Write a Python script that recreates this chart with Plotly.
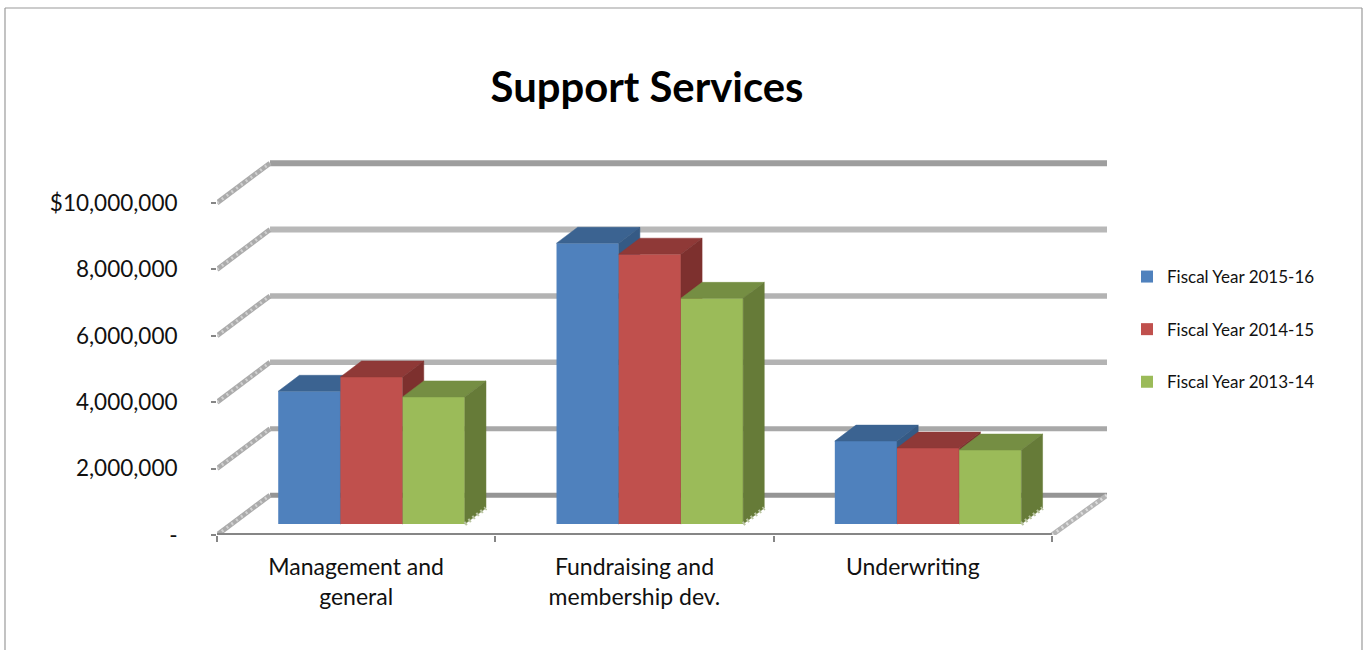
import plotly.graph_objects as go

categories = ["Management and<br>general", "Fundraising and<br>membership dev.", "Underwriting"]
series_names = ["Fiscal Year 2015-16", "Fiscal Year 2014-15", "Fiscal Year 2013-14"]
fy2015_16 = [4000000, 8460000, 2500000]
fy2014_15 = [4430000, 8130000, 2290000]
fy2013_14 = [3830000, 6800000, 2230000]
y_ticks = [0, 2000000, 4000000, 6000000, 8000000, 10000000]
y_tick_labels = ["-", "2,000,000", "4,000,000", "6,000,000", "8,000,000", "$10,000,000"]

W, H = 1367, 650
FONT = "Lato"
FRONT = ["#4F81BD", "#C0504D", "#9BBB59"]
TOP = ["#3B6391", "#8F3937", "#758E43"]
SIDE = ["#355A85", "#7D302E", "#667B38"]

# oblique projection, in axis units
WALL_DX, WALL_DY = 0.1905, 1200000
BAR_DX, BAR_DY = 0.076, 480000
BASE = 330000
BAR_W = 0.2235
X_MAX, Y_MAX = 3.198, 11600000
LEFT, RIGHT, TOP_PX, BOTTOM = 217, 1107, 535 - 33.2 * 11.6, 535

fig = go.Figure()


def line(xs, ys, color, width, dash=None, axis=("x", "y")):
    fig.add_trace(go.Scatter(
        x=xs, y=ys, mode="lines", xaxis=axis[0], yaxis=axis[1], showlegend=False,
        hoverinfo="skip", cliponaxis=False,
        line=dict(color=color, width=width, dash=dash, shape="linear"),
    ))


# back wall grid lines and their diagonal ribbons on the side wall
grid_cols = ["#959595", "#A8A8A8", "#B3B3B3", "#B3B3B3", "#B8B8B8", "#9E9E9E"]
grid_w = [5, 5, 5.5, 5.5, 6, 6]
for v, col, w in zip(y_ticks, grid_cols, grid_w):
    line([WALL_DX, X_MAX], [v + WALL_DY, v + WALL_DY], col, w)
    line([0, WALL_DX], [v, v + WALL_DY], "#ABABAB", 5)
    line([0, WALL_DX], [v, v + WALL_DY], "#D0D0D0", 3, "2px,4px")
# floor diagonal on the right side
line([3, X_MAX], [0, WALL_DY], "#B4B4B4", 5)
line([3, X_MAX], [0, WALL_DY], "#DCDCDC", 3, "2px,4px")
# front edge of the floor
line([0, 3], [0, 0], "#868686", 4)

# bars, one overlaid subplot per series so later series cover earlier ones
all_series = [fy2015_16, fy2014_15, fy2013_14]
for k, (name, vals) in enumerate(zip(series_names, all_series)):
    xa, ya = f"x{k + 2}", f"y{k + 2}"
    lefts = [i + 0.22 + k * BAR_W for i in range(len(vals))]
    fig.add_trace(go.Bar(
        x=[l + BAR_W / 2 for l in lefts], y=vals, base=[BASE] * len(vals), width=BAR_W,
        name=name, legendgroup=name, marker=dict(color=FRONT[k], line=dict(width=0)),
        xaxis=xa, yaxis=ya,
    ))
    for l, v in zip(lefts, vals):
        r = l + BAR_W
        t = BASE + v
        # top face
        fig.add_trace(go.Scatter(
            x=[l, r, r + BAR_DX, l + BAR_DX, l], y=[t, t, t + BAR_DY, t + BAR_DY, t],
            mode="lines", fill="toself", fillcolor=TOP[k], line=dict(color=TOP[k], width=0.5),
            xaxis=xa, yaxis=ya, showlegend=False, hoverinfo="skip",
        ))
        # side face
        fig.add_trace(go.Scatter(
            x=[r, r + BAR_DX, r + BAR_DX, r, r],
            y=[BASE, BASE + BAR_DY, t + BAR_DY, t, BASE],
            mode="lines", fill="toself", fillcolor=SIDE[k], line=dict(color=SIDE[k], width=0.5),
            xaxis=xa, yaxis=ya, showlegend=False, hoverinfo="skip",
        ))
        if k == 2:
            line([r, r + BAR_DX], [BASE, BASE + BAR_DY], "#B9C4A0", 4, "2px,3px", (xa, ya))

dom_x = [LEFT / W, RIGHT / W]
dom_y = [1 - BOTTOM / H, 1 - TOP_PX / H]
hidden = dict(domain=dom_x, range=[0, X_MAX], fixedrange=True, showgrid=False, zeroline=False,
              showline=False, ticks="", showticklabels=False, overlaying="x")
hidden_y = dict(domain=dom_y, range=[0, Y_MAX], fixedrange=True, showgrid=False, zeroline=False,
                showline=False, ticks="", showticklabels=False, overlaying="y", side="left")

fig.update_layout(
    width=W, height=H, autosize=False,
    margin=dict(l=0, r=0, t=0, b=0, autoexpand=False),
    paper_bgcolor="white", plot_bgcolor="rgba(0,0,0,0)",
    barmode="overlay",
    font=dict(family=FONT, color="#111111"),
    title=dict(text="<b>Support Services</b>", x=647 / W, xanchor="center", y=1 - 87 / H, yanchor="middle",
               font=dict(family=FONT, size=41.8, color="#000000")),
    xaxis=dict(domain=dom_x, range=[0, X_MAX], fixedrange=True, showgrid=False, zeroline=False, showline=False,
               tickmode="array", tickvals=[0, 1, 2, 3], ticktext=["", "", "", ""],
               ticks="outside", ticklen=6, tickwidth=1.5, tickcolor="#868686"),
    yaxis=dict(domain=dom_y, range=[0, Y_MAX], fixedrange=True, showgrid=False, zeroline=False, showline=False,
               tickmode="array", tickvals=y_ticks, ticktext=y_tick_labels,
               ticks="outside", ticklen=5, tickwidth=1.5, tickcolor="#868686",
               ticklabelstandoff=29, tickfont=dict(family=FONT, size=22.5, color="#111111")),
    xaxis2=dict(hidden, showticklabels=True, tickmode="array", tickvals=[0.5, 1.5, 2.5],
                ticktext=categories, ticklen=0, ticklabelstandoff=16, anchor="y2", side="bottom",
                tickfont=dict(family=FONT, size=23, color="#111111")),
    yaxis2=dict(hidden_y, anchor="x2"),
    xaxis3=dict(hidden, anchor="y3"),
    yaxis3=dict(hidden_y, anchor="x3"),
    xaxis4=dict(hidden, anchor="y4"),
    yaxis4=dict(hidden_y, anchor="x4"),
    legend=dict(x=1127 / W, xanchor="left", y=1 - 259 / H, yanchor="top", bgcolor="rgba(0,0,0,0)",
                tracegroupgap=27.5, traceorder="grouped", itemclick=False, itemdoubleclick=False,
                font=dict(family=FONT, size=17, color="#111111")),
    shapes=[
        dict(type="line", xref="paper", yref="paper", x0=5 / W, x1=5 / W, y0=0, y1=1 - 8 / H,
             line=dict(color="#9A9A9A", width=1.2)),
        dict(type="line", xref="paper", yref="paper", x0=5 / W, x1=1362 / W, y0=1 - 8 / H, y1=1 - 8 / H,
             line=dict(color="#9A9A9A", width=1.2)),
        dict(type="line", xref="paper", yref="paper", x0=1362 / W, x1=1362 / W, y0=0, y1=1 - 8 / H,
             line=dict(color="#9A9A9A", width=1.2)),
    ],
)

fig.write_html("out.html", config={"displayModeBar": False},
               post_script="document.body.style.margin='0';document.body.style.overflow='hidden';")
